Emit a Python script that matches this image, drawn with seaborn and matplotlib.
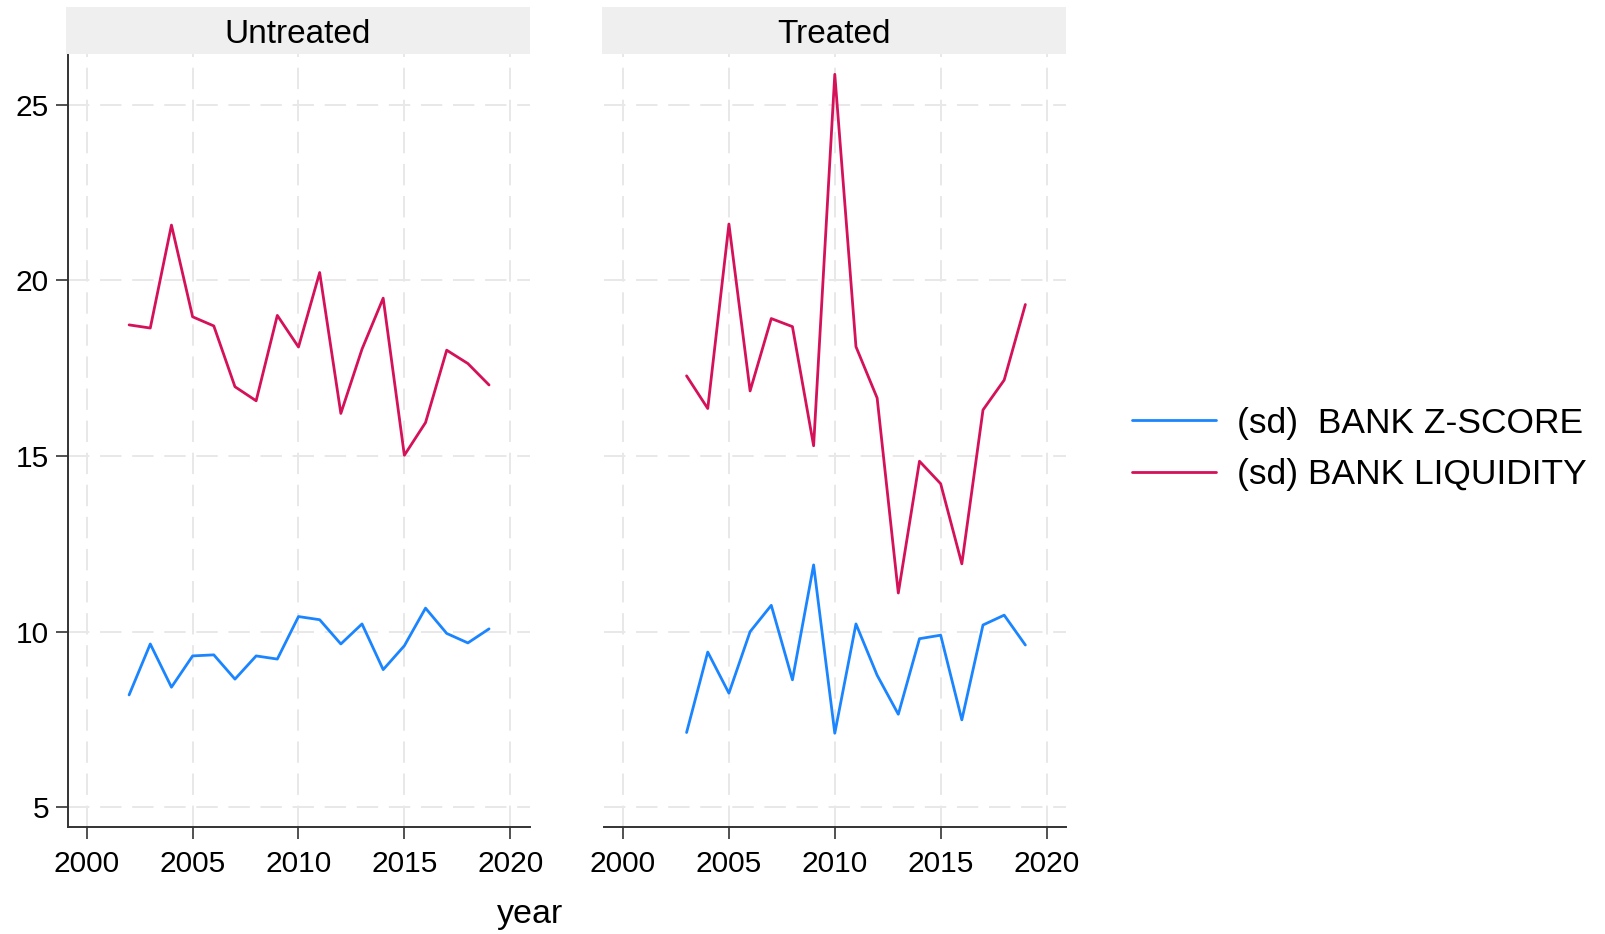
import matplotlib
matplotlib.use("Agg")
import matplotlib.pyplot as plt
import numpy as np
import pandas as pd
import seaborn as sns

# values
years_untreated = list(range(2002, 2020))
zscore_untreated = [8.20, 9.65, 8.42, 9.31, 9.34, 8.65, 9.31, 9.22, 10.43, 10.34,
                    9.65, 10.22, 8.92, 9.60, 10.67, 9.95, 9.68, 10.08]
liq_untreated = [18.73, 18.64, 21.57, 18.96, 18.70, 16.97, 16.57, 19.00, 18.10, 20.22,
                 16.21, 18.04, 19.49, 15.02, 15.95, 18.01, 17.63, 17.02]

years_treated = list(range(2003, 2020))
zscore_treated = [7.13, 9.42, 8.25, 10.00, 10.75, 8.63, 11.90, 7.11, 10.22, 8.76,
                  7.65, 9.80, 9.90, 7.49, 10.19, 10.47, 9.62]
liq_treated = [17.28, 16.35, 21.60, 16.85, 18.91, 18.68, 15.29, 25.86, 18.11, 16.65,
               11.10, 14.85, 14.21, 11.93, 16.31, 17.16, 19.31]

groups = ["Untreated", "Treated"]
series = ["(sd)  BANK Z-SCORE", "(sd) BANK LIQUIDITY"]
colors = ["#1a85ff", "#d41159"]

rows = []
for g, yrs, z, l in [("Untreated", years_untreated, zscore_untreated, liq_untreated),
                     ("Treated", years_treated, zscore_treated, liq_treated)]:
    for y, a, b in zip(yrs, z, l):
        rows.append((g, y, series[0], a))
        rows.append((g, y, series[1], b))
df = pd.DataFrame(rows, columns=["group", "year", "series", "value"])

sns.set_style("white")
plt.rcParams["font.family"] = ["Liberation Sans", "DejaVu Sans"]
plt.rcParams["text.color"] = "black"
plt.rcParams["xtick.labelcolor"] = "black"
plt.rcParams["ytick.labelcolor"] = "black"

W, H = 1606, 934
fig = plt.figure(figsize=(W / 100, H / 100), dpi=100)

grid_kw = dict(color="#e8e8e8", linewidth=1.4, linestyle=(0, (11, 5.5)))
panel_left = [67.7, 604]
ax_w = 462
ax_top, ax_bot = 54.3, 826.7
axes = []
for i, g in enumerate(groups):
    ax = fig.add_axes([panel_left[i] / W, 1 - ax_bot / H, ax_w / W, (ax_bot - ax_top) / H])
    sub = df[df.group == g]
    sns.lineplot(data=sub, x="year", y="value", hue="series", hue_order=series,
                 palette=colors, linewidth=2.0, ax=ax, legend=(i == 0))
    ax.set_xlim(1999.1, 2020.92)
    ax.set_ylim(4.45, 26.43)
    ax.set_xticks([2000, 2005, 2010, 2015, 2020])
    ax.set_yticks([5, 10, 15, 20, 25])
    ax.grid(True, **grid_kw)
    ax.set_axisbelow(True)
    ax.set_xlabel("")
    ax.set_ylabel("")
    for s in ["top", "right"]:
        ax.spines[s].set_visible(False)
    ax.spines["bottom"].set_color("#333333")
    ax.spines["bottom"].set_linewidth(1.4)
    ax.spines["left"].set_color("#333333")
    ax.spines["left"].set_linewidth(1.4)
    ax.tick_params(axis="x", length=8.5, width=1.2, color="#333333", labelsize=21.5, pad=8.5,
                   bottom=True)
    ax.tick_params(axis="y", length=8.5, width=1.2, color="#333333", labelsize=21.5, pad=5,
                   left=True)
    if i == 1:
        ax.spines["left"].set_visible(False)
        ax.tick_params(axis="y", left=False, labelleft=False)
    else:
        handles, labels = ax.get_legend_handles_labels()
        ax.get_legend().remove()

    # strip header
    strip = fig.add_axes([(panel_left[i] - 1.5) / W, 1 - ax_top / H, (ax_w + 1.5) / W, 47 / H])
    strip.set_facecolor("#efefef")
    strip.set_xticks([])
    strip.set_yticks([])
    for s in strip.spines.values():
        s.set_visible(False)
    strip.text(0.5, 0.43, g, ha="center", va="center", fontsize=24, transform=strip.transAxes)
    axes.append(ax)

fig.text(530 / W, 1 - 914 / H, "year", ha="center", va="center", fontsize=24.5)

fig.legend(handles, labels, loc="center left", bbox_to_anchor=(1132 / W, 1 - 449 / H),
           frameon=False, fontsize=25.5, handlelength=2.37, handletextpad=0.59,
           labelspacing=0.53, borderpad=0, borderaxespad=0)

fig.savefig("out.png", dpi=100)
